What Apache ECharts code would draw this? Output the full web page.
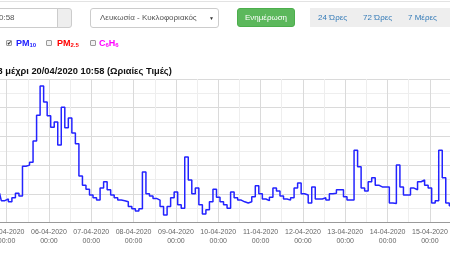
<!DOCTYPE html>
<html>
<head>
<meta charset="utf-8">
<script src="https://cdn.jsdelivr.net/npm/echarts@6/dist/echarts.min.js"></script>
<style>
html,body{margin:0;padding:0;width:450px;height:253px;overflow:hidden;background:#fff;font-family:"Liberation Sans",Arial,sans-serif;}
#chart{position:absolute;left:0;top:0;width:450px;height:253px;}
.abs{position:absolute;box-sizing:border-box;white-space:nowrap;}
.cb{position:absolute;box-sizing:border-box;width:6px;height:6px;border:1px solid #9a9a9a;border-radius:1px;background:#f2f2f2;top:40px;}
.lab{position:absolute;top:37px;height:12px;line-height:12px;font-size:9px;font-weight:bold;}
.lab sub{font-size:6px;vertical-align:-1px;}
</style>
</head>
<body>
<div id="chart"></div>

<div class="abs" style="left:0;top:1px;width:450px;height:1px;background:#e3e3e3"></div>

<div class="abs" style="left:-10px;top:8px;width:68px;height:20px;border:1px solid #ccc;background:#fff"></div>
<div class="abs" style="left:-1px;top:8px;height:20px;line-height:20px;font-size:8px;color:#555">0:58</div>
<div class="abs" style="left:57px;top:8px;width:15px;height:20px;border:1px solid #ccc;border-radius:0 3px 3px 0;background:#eee"></div>

<div class="abs" style="left:90px;top:8px;width:129px;height:20px;border:1px solid #ccc;border-radius:3px;background:#fff"></div>
<div class="abs" style="left:100px;top:8px;height:20px;line-height:20px;font-size:8px;color:#555">Λευκωσία - Κυκλοφοριακός</div>
<div class="abs" style="left:209px;top:8px;height:20px;line-height:20px;font-size:5px;color:#333">▼</div>

<div class="abs" style="left:237px;top:8px;width:58px;height:19px;border:1px solid #4cae4c;border-radius:3px;background:#5cb85c;color:#fff;font-size:8px;line-height:17px;text-align:center">Ενημέρωση</div>

<div class="abs" style="left:310px;top:8px;width:145px;height:19px;background:#eeeeee"></div>
<div class="abs" style="left:318px;top:8px;height:19px;line-height:19px;font-size:8px;color:#337ab7">24 Ώρες</div>
<div class="abs" style="left:363px;top:8px;height:19px;line-height:19px;font-size:8px;color:#337ab7">72 Ώρες</div>
<div class="abs" style="left:408px;top:8px;height:19px;line-height:19px;font-size:8px;color:#337ab7">7 Μέρες</div>

<div class="cb" style="left:6px"></div>
<div class="abs" style="left:6px;top:37px;width:6px;height:12px;line-height:12px;font-size:6px;color:#222;text-align:center">✔</div>
<div class="lab" style="left:16px;color:#2020ff">PM<sub>10</sub></div>
<div class="cb" style="left:46px"></div>
<div class="lab" style="left:57px;color:#ff0000">PM<sub>2.5</sub></div>
<div class="cb" style="left:90px"></div>
<div class="lab" style="left:99px;color:#ff00ff">C<sub>6</sub>H<sub>6</sub></div>

<div class="abs" style="left:-2.5px;top:64px;height:14px;line-height:14px;font-size:9.3px;font-weight:bold;color:#111">3 μέχρι 20/04/2020 10:58 (Ωριαίες Τιμές)</div>

<script>
// PM10 readings, every 2 hours, starting 04-04-2020 20:00 (UTC used for the axis)
const day04 = [51, 38];
const day05 = [41, 36, 43, 51, 46, 98, 100, 105, 142, 187, 238, 210];
const day06 = [186, 166, 175, 135, 201, 165, 182, 156, 137, 81, 65, 58];
const day07 = [48, 43, 39, 60, 71, 57, 48, 43, 39, 38, 36, 28];
const day08 = [24, 20, 24, 88, 50, 46, 42, 39, 28, 13, 28, 43];
const day09 = [53, 31, 25, 114, 74, 50, 60, 31, 15, 22, 36, 58];
const day10 = [44, 36, 31, 25, 53, 43, 39, 36, 34, 36, 45, 64];
const day11 = [50, 41, 38, 44, 60, 55, 46, 41, 39, 43, 60, 69];
const day12 = [50, 48, 34, 62, 41, 41, 43, 39, 50, 51, 57, 57];
const day13 = [45, 39, 39, 126, 97, 60, 55, 71, 78, 65, 62, 62];
const day14 = [62, 34, 33, 100, 62, 48, 48, 60, 57, 71, 74, 65];
const day15 = [60, 34, 38, 126, 78, 34, 29];

const HOUR = 3600000;
const DAY = 24 * HOUR;
const firstReading = Date.UTC(2020, 3, 4, 20);
const stepHours = 2;
const axisStart = Date.UTC(2020, 3, 4);
const axisEnd = Date.UTC(2020, 3, 16);
const yMax = 250, yInterval = 50;

const values = [].concat(day04, day05, day06, day07, day08, day09, day10, day11, day12, day13, day14, day15);
const data = values.map((v, i) => [firstReading + i * stepHours * HOUR, v]);

function pad(n){ return (n < 10 ? '0' : '') + n; }
function fmt(v){
  const d = new Date(v);
  if (d.getUTCHours() !== 0 || d.getUTCMinutes() !== 0) return '';
  return pad(d.getUTCDate()) + '-' + pad(d.getUTCMonth() + 1) + '-' + d.getUTCFullYear() + '\n' + pad(d.getUTCHours()) + ':' + pad(d.getUTCMinutes());
}

const chart = echarts.init(document.getElementById('chart'), null, {renderer: 'canvas'});
chart.setOption({
  animation: false,
  backgroundColor: 'transparent',
  grid: {left: -35.73, right: -22.23, top: 79, bottom: 30.5, containLabel: false, outerBoundsMode: 'none'},
  xAxis: {
    type: 'value', min: axisStart, max: axisEnd, interval: DAY,
    axisLine: {show: true, onZero: false, lineStyle: {color: '#9a9a9a', width: 1}},
    axisTick: {show: false},
    axisLabel: {show: true, color: '#666', fontSize: 7, lineHeight: 9, margin: 5,
      fontFamily: 'Liberation Sans, Arial, sans-serif', formatter: fmt, hideOverlap: false},
    splitLine: {show: true, lineStyle: {color: '#dadada', width: 1}},
    minorTick: {show: false, splitNumber: 2},
    minorSplitLine: {show: true, lineStyle: {color: '#eeeeee', width: 1}}
  },
  yAxis: {
    type: 'value', min: 0, max: yMax, interval: yInterval,
    axisLine: {show: false}, axisTick: {show: false}, axisLabel: {show: false},
    splitLine: {show: true, lineStyle: {color: '#dadada', width: 1}},
    minorTick: {show: false, splitNumber: 2},
    minorSplitLine: {show: true, lineStyle: {color: '#eeeeee', width: 1}}
  },
  series: [{
    name: 'PM10', type: 'line', data: data, step: 'middle',
    symbol: 'none', showSymbol: false,
    lineStyle: {color: '#2323ff', width: 1.5}, clip: true
  }]
});
</script>
</body>
</html>
